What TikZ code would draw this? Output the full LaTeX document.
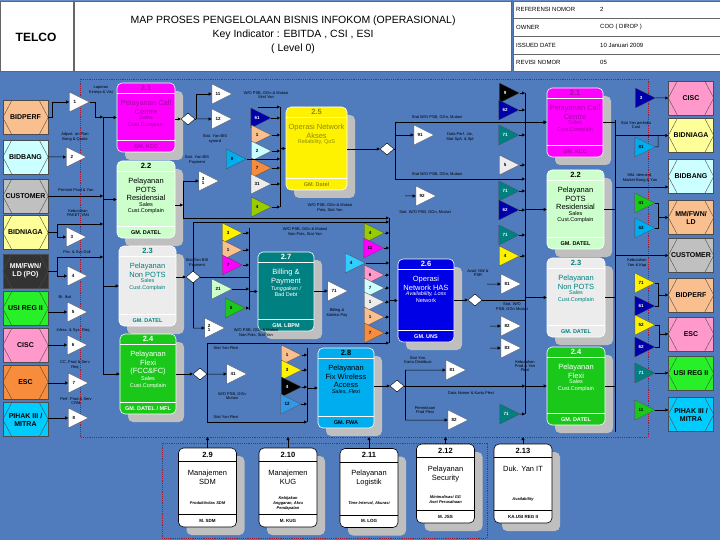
\documentclass[tikz,border=0pt]{standalone}
\usepackage{fontspec}
\setmainfont{Liberation Sans}
\usetikzlibrary{shapes.geometric,arrows.meta,calc}

\definecolor{bgblue}{RGB}{80,124,190}
\definecolor{shadegray}{RGB}{191,191,191}
\definecolor{boundred}{RGB}{150,30,60}
\definecolor{cmag}{RGB}{255,0,255}
\definecolor{cmagtxt}{RGB}{165,10,165}
\definecolor{clgreen}{RGB}{204,255,204}
\definecolor{clgray}{RGB}{236,236,236}
\definecolor{cteal}{RGB}{0,128,128}
\definecolor{cgreen}{RGB}{25,200,25}
\definecolor{cdkyel}{RGB}{140,140,0}
\definecolor{cnavy}{RGB}{0,0,170}
\definecolor{cnavyb}{RGB}{0,0,230}
\definecolor{cpeach}{RGB}{250,191,143}
\definecolor{clcyan}{RGB}{204,255,255}
\definecolor{cgray}{RGB}{192,192,192}
\definecolor{clyellow}{RGB}{255,255,153}
\definecolor{cdark}{RGB}{51,51,51}
\definecolor{cbgreen}{RGB}{40,240,40}
\definecolor{cpink}{RGB}{255,153,204}
\definecolor{corange}{RGB}{247,140,60}
\definecolor{ccyanb}{RGB}{0,204,255}
\definecolor{colive}{RGB}{153,204,0}
\definecolor{csky}{RGB}{51,204,255}
\definecolor{cblue}{RGB}{51,153,230}

\tikzset{
  conn/.style={draw=black, line width=0.5pt},
  arr/.style={-{Triangle[length=3pt,width=3pt]}},
  lbl/.style={font=\fontsize{4}{4.4}\selectfont, align=center, inner sep=0pt},
  hdr/.style={font=\fontsize{6}{7}\selectfont, inner sep=0pt},
  bound/.style={draw=boundred, line width=0.7pt, dash pattern=on 1.2pt off 1pt},
  tri/.style={isosceles triangle, isosceles triangle stretches, minimum width=20, minimum height=20,
    inner sep=0pt, draw=black!70, line width=0.3pt, align=center,
    font=\fontsize{4.5}{4.8}\selectfont\bfseries},
  tw/.style={tri, fill=white},
  tnavy/.style={tri, fill=cnavy, text=white},
  tblack/.style={tri, fill=black, text=white},
  tteal/.style={tri, fill=cteal, text=white},
  tpeach/.style={tri, fill=cpeach},
  tlcyan/.style={tri, fill=clcyan},
  torange/.style={tri, fill=corange},
  tlgray/.style={tri, fill=clgray},
  tolive/.style={tri, fill=colive},
  tyellow/.style={tri, fill=yellow},
  tmag/.style={tri, fill=cmag},
  tlgreen/.style={tri, fill=clgreen},
  tgreen/.style={tri, fill=cgreen},
  tcyan/.style={tri, fill=cyan},
  tsky/.style={tri, fill=csky},
  tblue/.style={tri, fill=cblue},
  tpink/.style={tri, fill=cpink},
  dia/.style={diamond, draw=black, fill=white, minimum width=14, minimum height=12, inner sep=0pt, line width=0.4pt},
  ent/.style={draw=black!70, minimum width=45, minimum height=34, inner sep=0pt, line width=0.4pt},
  entlbl/.style={font=\fontsize{7}{8}\selectfont\bfseries, align=center, inner sep=0pt},
  hexline/.style={draw=black!70, line width=0.4pt},
  proc/.style={draw=white, rounded corners=5, minimum width=57, minimum height=79, inner sep=0pt, line width=0.6pt},
  procshade/.style={fill=shadegray, rounded corners=5, minimum width=57, minimum height=79, inner sep=0pt},
  supp/.style={proc, draw=black, fill=white},
  pnum/.style={font=\fontsize{7.5}{8}\selectfont\bfseries, inner sep=0pt},
  ptitle/.style={font=\fontsize{7.5}{8.8}\selectfont, align=center, anchor=north, inner sep=0pt},
  pkpi/.style={font=\fontsize{5.5}{6.5}\selectfont, align=center, anchor=north, inner sep=1pt},
  pown/.style={font=\fontsize{5.5}{6}\selectfont\bfseries, inner sep=0pt},
  skpi/.style={font=\fontsize{4}{4.8}\selectfont\bfseries\itshape, align=center, inner sep=0pt},
}

% entity box with the inner hexagon
\newcommand{\entbox}[5]{%
  \node[ent,fill=#2] (#1) at (#4) {};
  \draw[hexline] ($(#1.north west)!0.2!(#1.north east)$) -- (#1.west) -- ($(#1.south west)!0.2!(#1.south east)$)
    ($(#1.north east)!0.2!(#1.north west)$) -- (#1.east) -- ($(#1.south east)!0.2!(#1.south west)$);
  \node[entlbl,text=#3] (#1-l) at (#1.center) {#5};
}

% process box: name, size, fill, text colour, position, number, title, kpi, owner
\newcommand{\procbox}[9]{%
  \node[procshade,#2,xshift=8,yshift=-8] at (#5) {};
  \node[proc,#2,fill=#3] (#1) at (#5) {};
  \draw[white,line width=0.6pt] ([yshift=-11]#1.north west) -- ([yshift=-11]#1.north east)
    ([yshift=12]#1.south west) -- ([yshift=12]#1.south east);
  \node[pnum,text=#4] (#1-n) at ([yshift=-5.5]#1.north) {#6};
  \node[ptitle,text=#4] (#1-t) at ([yshift=-17]#1.north) {#7};
  \node[pkpi,text=#4] (#1-k) at (#1-t.south) {#8};
  \node[pown,text=#4] (#1-o) at ([yshift=6]#1.south) {#9};
}

% support box: name, position, number, title, kpi, owner
\newcommand{\suppbox}[6]{%
  \node[procshade,minimum width=58,xshift=8,yshift=-8] at (#2) {};
  \node[supp,minimum width=58] (#1) at (#2) {};
  \draw[black,line width=0.5pt] ([yshift=-14]#1.north west) -- ([yshift=-14]#1.north east)
    ([yshift=13]#1.south west) -- ([yshift=13]#1.south east);
  \node[pnum] (#1-n) at ([yshift=-7]#1.north) {#3};
  \node[ptitle] (#1-t) at ([yshift=-22]#1.north) {#4};
  \node[skpi] (#1-k) at ([yshift=24]#1.south) {#5};
  \node[pown,font=\fontsize{4.5}{5}\selectfont\bfseries] (#1-o) at ([yshift=6.5]#1.south) {#6};
}

\begin{document}
\begin{tikzpicture}[x=1pt,y=-1pt]

    % Canvas
    \fill[bgblue] (0,0) rectangle (720,540);
    \useasboundingbox (0,0) rectangle (720,540);

    % Header
    \draw[fill=white,draw=black!60,line width=0.4pt] (0,1) rectangle (73,71) (74,1) rectangle (511,71) (513,1) rectangle (720,71);
    \draw[black!60,line width=0.4pt] (513,18) -- (720,18) (513,36) -- (720,36) (513,54) -- (720,54);
    \node[font=\fontsize{12}{14}\selectfont\bfseries] (telco) at (36,37) {TELCO};
    \node[font=\fontsize{10.5}{12}\selectfont] (ttlA) at (293,21) {MAP PROSES PENGELOLAAN BISNIS INFOKOM (OPERASIONAL)};
    \node[font=\fontsize{10.5}{12}\selectfont] (ttlB) at (293,35) {Key Indicator : EBITDA , CSI , ESI};
    \node[font=\fontsize{10.5}{12}\selectfont] (ttlC) at (293,49) {( Level 0)};
    \node[hdr,anchor=west] (refL) at (516,9) {REFERENSI NOMOR};
    \node[hdr,anchor=west] (refV) at (600,9) {2};
    \node[hdr,anchor=west] (ownL) at (516,27) {OWNER};
    \node[hdr,anchor=west] (ownV) at (600,27) {COO ( DIROP )};
    \node[hdr,anchor=west] (isuL) at (516,45) {ISSUED DATE};
    \node[hdr,anchor=west] (isuV) at (600,45) {10 Januari 2009};
    \node[hdr,anchor=west] (revL) at (516,62) {REVISI NOMOR};
    \node[hdr,anchor=west] (revV) at (600,62) {05};

    % Boundaries
    \draw[bound] (80,79) rectangle (648,437);
    \draw[bound] (162,443) rectangle (487,538);
    \coordinate (bnd) at (0,437);

    % Left entities
    \entbox{eBidperfL}{cpeach}{black}{25.5,117.5}{BIDPERF}
    \entbox{eBidbangL}{clcyan}{black}{25.5,157}{BIDBANG}
    \entbox{eCustL}{cgray}{black}{25.5,196}{CUSTOMER}
    \entbox{eBidniagaL}{clyellow}{black}{25.5,232.5}{BIDNIAGA}
    \entbox{eMmL}{cdark}{white}{25.5,271}{MM/FWN/\\LD (PO)}
    \entbox{eUsiL}{cbgreen}{black}{25.5,308.5}{USI REG II}
    \entbox{eCiscL}{cpink}{black}{25.5,345.5}{CISC}
    \entbox{eEscL}{corange}{black}{25.5,382}{ESC}
    \entbox{ePihakL}{ccyanb}{black}{25.5,419.5}{PIHAK III /\\MITRA}

    % Right entities
    \entbox{eCiscR}{cpink}{black}{691,98}{CISC}
    \entbox{eBidniagaR}{clyellow}{black}{691,135.5}{BIDNIAGA}
    \entbox{eBidbangR}{clcyan}{black}{691,176.5}{BIDBANG}
    \entbox{eMmR}{cpeach}{black}{691,217.5}{MM/FWN/\\LD}
    \entbox{eCustR}{cgray}{black}{691,255.5}{CUSTOMER}
    \entbox{eBidperfR}{cpeach}{black}{691,295}{BIDPERF}
    \entbox{eEscR}{cpink}{black}{691,334}{ESC}
    \entbox{eUsiR}{cbgreen}{black}{691,373.5}{USI REG II}
    \entbox{ePihakR}{ccyanb}{black}{691,414.5}{PIHAK III /\\MITRA}

    % Processes
    \procbox{pCallL}{minimum width=58,minimum height=69}{cmag}{cmagtxt}{146,117.5}{2.1}{Pelayanan Call\\Centre}{Sales\\Cust.Complain}{GM. KCC}
    \procbox{pPotsL}{minimum width=58,minimum height=77}{clgreen}{black}{146,199.5}{2.2}{Pelayanan\\POTS\\Residensial}{Sales\\Cust.Complain}{GM. DATEL}
    \procbox{pNonL}{minimum height=80}{clgray}{cteal}{147.5,286}{2.3}{Pelayanan\\Non POTS}{Sales\\Cust.Complain}{GM. DATEL}
    \procbox{pFlexiL}{minimum width=56,minimum height=80}{cgreen}{white}{148,374}{2.4}{Pelayanan\\Flexi\\(FCC\&FC)}{Sales\\Cust.Complain}{GM. DATEL / MFL}
    \procbox{pNetA}{minimum width=61,minimum height=83}{yellow}{cdkyel}{316.5,148.5}{2.5}{Operasi Network\\Akses}{Reliability, QoS}{GM. Datel}
    \procbox{pBill}{minimum width=56}{cteal}{white}{286,291.5}{2.7}{Billing \&\\Payment}{\itshape Tunggakan /\\Bad Debt}{GM. LBPM}
    \procbox{pNetH}{minimum width=56,minimum height=83}{cnavyb}{white}{426,300.5}{2.6}{Operasi\\Network HAS}{\itshape Availability, Loss\\Network}{GM. UNS}
    \procbox{pFwa}{minimum width=56,minimum height=80}{cyan}{black}{346,388}{2.8}{Pelayanan\\Fix Wireless\\Access}{\itshape Sales, Flexi}{GM. FWA}
    \procbox{pCallR}{minimum width=56,minimum height=69}{cmag}{cmagtxt}{575,122.5}{2.1}{Pelayanan Call\\Centre}{Sales\\Cust.Complain}{GM. KCC}
    \procbox{pPotsR}{}{clgreen}{black}{575.5,209.5}{2.2}{Pelayanan\\POTS\\Residensial}{Sales\\Cust.Complain}{GM. DATEL}
    \procbox{pNonR}{minimum width=58}{clgray}{cteal}{576,297.5}{2.3}{Pelayanan\\Non POTS}{Sales\\Cust.Complain}{GM. DATEL}
    \procbox{pFlexiR}{minimum width=58,minimum height=78}{cgreen}{white}{576,386}{2.4}{Pelayanan\\Flexi}{Sales\\Cust.Complain}{GM. DATEL}

    % Support processes
    \suppbox{sSdm}{207.5,487.5}{2.9}{Manajemen\\SDM}{Produktivitas SDM}{M. SDM}
    \suppbox{sKug}{288,487.5}{2.10}{Manajemen\\KUG}{Kebijakan\\Anggaran, Akru\\Pendapatan}{M. KUG}
    \suppbox{sLog}{369,488}{2.11}{Pelayanan\\Logistik}{Time Interval, Akurasi}{M. LOG}
    \suppbox{sSec}{445.5,483.5}{2.12}{Pelayanan\\Security}{Minimalisasi GG\\Aset Perusahaan}{M. JSS}
    \suppbox{sIt}{523,483.5}{2.13}{Duk. Yan IT}{Availability}{KA.USI REG II}
    \foreach \s in {sSdm,sKug,sLog,sSec,sIt}
      \draw[conn,arr] (\s.north) -- (\s.north |- bnd);

    % Inputs from the left
    \node[tw] (tL1) at (75,102) {1};
    \node[tw] (tL2) at (72,157) {2};
    \node[tw] (tL3) at (72,237) {3};
    \node[tw] (tL4) at (73,276) {4};
    \node[tw] (tL5) at (73,312) {5};
    \node[tw] (tL6) at (73,345) {6};
    \node[tw] (tL7) at (74,383) {7};
    \node[tw] (tL8) at (74,418) {8};
    \coordinate (busL1) at (103,117);
    \coordinate (busL2) at (103,374);
    \coordinate (jN) at (57,224);
    \coordinate (jM) at (57,257);
    \draw[conn] (busL1) -- (busL2);
    \foreach \p in {pCallL,pPotsL,pNonL,pFlexiL}
      \draw[conn,arr] (busL1 |- \p.west) -- (\p.west);
    \draw[conn,arr] (eBidperfL.east) -- ++(4,0) |- (tL1.west);
    \draw[conn,arr] (tL1.east) -- ++(6,0) |- (busL1);
    \draw[conn,arr] (eBidbangL.east) -- (tL2.west);
    \draw[conn,arr] (eCustL.east) -- (busL1 |- eCustL.east);
    \draw[conn] (eBidniagaL.east) -| (jN);
    \draw[conn,arr] (jN) -- (busL1 |- jN);
    \draw[conn,arr] (eBidniagaL.east -| jN) |- (tL3.west);
    \draw[conn] (eMmL.east) -| (jM);
    \draw[conn,arr] (jM) -- (busL1 |- jM);
    \draw[conn,arr] (eMmL.east -| jM) |- (tL4.west);
    \draw[conn,arr] (eUsiL.east |- tL5.west) -- (tL5.west);
    \draw[conn,arr] (eCiscL.east |- tL6.west) -- (tL6.west);
    \draw[conn,arr] (eEscL.east |- tL7.west) -- (tL7.west);
    \draw[conn,arr] (ePihakL.east |- tL8.west) -- (tL8.west);
    \node[lbl] (lbL1) at (101,90) {Laporan\\Kinerja \& Visi};
    \node[lbl] (lbL2) at (75,137) {Adjust. on Plan\\Bang \& Quota};
    \node[lbl] (lbL3) at (76,190) {Permint Prod \& Yan};
    \node[lbl] (lbL4) at (78,213) {Kebutuhan\\PAKET YAN};
    \node[lbl] (lbL5) at (77,252) {Pro. \& Svc Doll};
    \node[lbl] (lbL6) at (65,297) {Bi. Ikut};
    \node[lbl] (lbL7) at (73,330) {Infras. \& Sys. Req};
    \node[lbl] (lbL8) at (75,365) {CC, Prod \& Serv\\Req};
    \node[lbl] (lbL9) at (76,401) {Perf. Prod \& Serv\\CRM};

    % After 2.1 and 2.2
    \node[dia] (dCallL) at (188,119) {};
    \node[tw] (t11) at (218,94) {11};
    \node[tw] (t12) at (218,119) {12};
    \node[tcyan] (t8) at (232,159) {8};
    \node[tw] (t31) at (203,181) {3\\1};
    \coordinate (jCall) at (196,119);
    \coordinate (jPots) at (183,205);
    \coordinate (jPotsB) at (183,218);
    \draw[conn,arr] (pCallL.east |- dCallL) -- (dCallL.west);
    \draw[conn] (dCallL.east) -- (jCall);
    \draw[conn,arr] (jCall) |- (t11.west);
    \draw[conn,arr] (jCall) -- (t12.west);
    \draw[conn,arr] (pPotsL.east |- jPots) -- (jPots);
    \draw[conn,arr] (jPots) |- (t31.west);
    \draw[conn] (jPots) -- (jPotsB);
    \node[lbl] (lbM1) at (215,139) {Stat. Yan BIS\\synord};
    \node[lbl] (lbM2) at (197,160) {Stat. Yan BIS\\Payment};

    % Into 2.5
    \node[tnavy] (t61) at (257,118) {61};
    \node[tpeach] (t1a) at (257,135) {1};
    \node[tlcyan] (t2a) at (257,151) {2};
    \node[torange] (t7a) at (257,168) {7};
    \node[tlgray] (t31a) at (257,184) {31};
    \node[tolive] (t4a) at (257,207) {4};
    \coordinate (bus25a) at (280,107);
    \coordinate (bus25b) at (280,207);
    \coordinate (wo25) at (258,107);
    \draw[conn] (bus25a) -- (bus25b);
    \foreach \tn in {t61,t1a,t2a,t7a,t31a,t4a,t8}
      \draw[conn,arr] (\tn.east) -- (bus25a |- \tn.east);
    \draw[conn,arr] (wo25) -- (bus25a);
    \draw[conn,arr] (bus25a |- pNetA.west) -- (pNetA.west);
    \node[lbl] (lbM3) at (266,95) {W/O PSB, GGn \& Mutasi\\Siml Yan};

    % After 2.5
    \node[dia] (dNetA) at (387,149) {};
    \node[tw] (t91) at (420,135) {91};
    \node[tw] (t92) at (422,196) {92};
    \coordinate (jNetA1) at (395,122);
    \coordinate (jNetA2) at (395,179);
    \coordinate (in92) at (405,196);
    \coordinate (busRa) at (525,93);
    \coordinate (busRb) at (525,414);
    \draw[conn,arr] (pNetA.east |- dNetA) -- (dNetA.west);
    \draw[conn] (dNetA.east) -- (dNetA.east -| jNetA1);
    \draw[conn] (jNetA1) -- (jNetA2);
    \draw[conn,arr] (jNetA1) -- (pCallR.west |- jNetA1);
    \draw[conn,arr] (jNetA1 |- t91.west) -- (t91.west);
    \draw[conn,arr] (jNetA2) -- (busRa |- jNetA2);
    \draw[conn,arr] (in92) -- (t92.west);
    \node[lbl] (lbM12) at (437,117) {Stat W/O PSB, GGn, Mutasi};
    \node[lbl] (lbM13) at (460,137) {Data Perf. Jar,\\Stat Sp/L \& Spl};
    \node[lbl] (lbM14) at (437,174) {Stat W/O PSB, GGn, Mutasi};
    \node[lbl] (lbM15) at (425,212) {Stat. W/O PSB, GGn, Mutasi};

    % Into the right column
    \node[tblack] (t9) at (505,93) {9};
    \node[tnavy] (t62a) at (505,110) {62};
    \node[tteal] (t71a) at (505,135) {71};
    \node[tlgray] (t5a) at (505,165) {5};
    \node[tteal] (t71b) at (505,191) {71};
    \node[tnavy] (t62b) at (505,210) {62};
    \node[tteal] (t71c) at (505,235) {71};
    \node[tyellow] (t4b) at (505,256) {4};
    \draw[conn] (busRa) -- (busRb);
    \foreach \tn in {t9,t62a,t71a,t5a,t71b,t62b,t71c,t4b}
      \draw[conn,arr] (\tn.east) -- (busRa |- \tn.east);
    \foreach \p in {pCallR,pPotsR,pNonR,pFlexiR}
      \draw[conn,arr] (busRa |- \p.west) -- (\p.west);

    % After 2.3
    \node[dia] (dNonL) at (193,277) {};
    \node[tw] (t21) at (209,328) {2\\1};
    \coordinate (jNonU) at (193,222);
    \coordinate (jNonD) at (193,328);
    \coordinate (bus26a) at (389,218);
    \coordinate (bus26b) at (389,343);
    \coordinate (bus27a) at (249,228);
    \coordinate (bus27b) at (249,310);
    \draw[conn,arr] (pNonL.east |- dNonL) -- (dNonL.west);
    \draw[conn] (dNonL.north) -- (jNonU);
    \draw[conn,arr] (jNonU) -- (bus26a |- jNonU);
    \draw[conn,arr] (jPotsB) -- (bus26a);
    \draw[conn] (dNonL.south) -- (jNonD);
    \draw[conn,arr] (jNonD) -- (t21.west);
    \draw[conn] (dNonL.east) -- (bus27a |- dNonL);
    \node[lbl] (lbM4) at (330,208) {W/O PSB, GGn \& Mutasi\\Pots, Stat Yan};
    \node[lbl] (lbM5) at (305,232) {W/O PSB, GGn \& Mutasi\\Non Pots, Stat Yan};
    \node[lbl] (lbM6) at (197,263) {Stat Yan BIS\\Payment};
    \node[lbl] (lbM7) at (256,333) {W/O PSB, GGn \& Mutasi\\Non Pots, Stat Yan};

    % Into 2.7
    \node[tyellow] (t3b) at (228,233) {3};
    \node[tpeach] (t1b) at (228,250) {1};
    \node[tmag] (t7b) at (228,265) {7};
    \node[tlgreen] (t21b) at (218,289) {21};
    \node[tgreen] (t5b) at (231,308) {5};
    \draw[conn] (bus27a) -- (bus27b);
    \foreach \tn in {t3b,t1b,t7b,t21b,t5b}
      \draw[conn,arr] (\tn.east) -- (bus27a |- \tn.east);
    \draw[conn,arr] (bus27a |- pBill.west) -- (pBill.west);
    \node[tw] (t71w) at (334,291) {71};
    \draw[conn,arr] (pBill.east |- t71w.west) -- (t71w.west);
    \node[lbl] (lbM8) at (337,313) {Billing \&\\Koleksi Pay};

    % Into 2.6
    \node[tolive] (t4c) at (370,233) {4};
    \node[tmag] (t11c) at (370,248) {11};
    \node[tsky] (t4d) at (351,263) {4};
    \node[tpink] (t6c) at (370,275) {6};
    \node[tlcyan] (t7c) at (370,288) {7};
    \node[tlgray] (t1c) at (370,302) {1};
    \node[tpeach] (t1d) at (370,317) {1};
    \node[torange] (t7d) at (370,333) {7};
    \draw[conn] (bus26a) -- (bus26b);
    \foreach \tn in {t4c,t11c,t4d,t6c,t7c,t1c,t1d,t7d}
      \draw[conn,arr] (\tn.east) -- (bus26a |- \tn.east);
    \draw[conn,arr] (bus26a |- pNetH.west) -- (pNetH.west);

    % After 2.6
    \node[dia] (dNetH) at (475,300) {};
    \node[tw] (t81a) at (507,284) {81};
    \node[tw] (t82a) at (507,326) {82};
    \node[tw] (t83a) at (507,348) {83};
    \coordinate (in81a) at (487,284);
    \coordinate (in82a) at (490,326);
    \coordinate (in83a) at (490,348);
    \draw[conn,arr] (pNetH.east |- dNetH) -- (dNetH.west);
    \draw[conn] (dNetH.east) -- (busRa |- dNetH);
    \draw[conn,arr] (in81a) -- (t81a.west);
    \draw[conn,arr] (in82a) -- (t82a.west);
    \draw[conn,arr] (in83a) -- (t83a.west);
    \node[lbl] (lbM16) at (478,273) {Avail, NW \&\\PSR};
    \node[lbl] (lbM17) at (512,307) {Stat. W/O\\PSB, GGn Mutasi};

    % After 2.4
    \node[dia] (dFlexiL) at (200,374) {};
    \node[tw] (t41w) at (233,374) {41};
    \coordinate (jFlxU) at (207,343);
    \coordinate (jFlxD) at (207,422);
    \coordinate (bus28a) at (307,348);
    \coordinate (bus28b) at (307,422);
    \draw[conn,arr] (pFlexiL.east |- dFlexiL) -- (dFlexiL.west);
    \draw[conn,arr] (dFlexiL.east) -- (t41w.west);
    \draw[conn] (jFlxU) -- (jFlxD);
    \draw[conn,arr] (jFlxU) -- (bus26b);
    \draw[conn,arr] (jFlxD) -- (bus28b);
    \node[lbl] (lbM9) at (226,348) {Stat Yan Flexi};
    \node[lbl] (lbM10) at (226,417) {Stat Yan Flexi};
    \node[lbl] (lbM11) at (232,396) {W/O PSB, GGn\\Mutasi};

    % Into 2.8
    \node[tpeach] (t1e) at (287,355) {1};
    \node[tyellow] (t3e) at (287,370) {3};
    \node[tblack] (t4e) at (287,387) {4};
    \node[tblue] (t12e) at (287,404) {12};
    \draw[conn] (bus28a) -- (bus28b);
    \foreach \tn in {t1e,t3e,t4e,t12e}
      \draw[conn,arr] (\tn.east) -- (bus28a |- \tn.east);
    \draw[conn,arr] (bus28a |- pFwa.west) -- (pFwa.west);

    % After 2.8
    \node[dia] (dFwa) at (397,386) {};
    \node[tw] (t81b) at (452,370) {81};
    \node[tw] (t82b) at (454,420) {82};
    \node[tteal] (t71d) at (506,414) {71};
    \coordinate (jFwa1) at (405,370);
    \coordinate (jFwa2) at (405,420);
    \draw[conn,arr] (pFwa.east |- dFwa) -- (dFwa.west);
    \draw[conn,arr] (dFwa.east) -- (busRa |- dFwa);
    \draw[conn] (jFwa1) -- (jFwa2);
    \draw[conn,arr] (jFwa1) -- (t81b.west);
    \draw[conn,arr] (jFwa2) -- (t82b.west);
    \draw[conn,arr] (t71d.east) -- (busRb);
    \node[lbl] (lbM18) at (418,360) {Stat Yan,\\Kartu Distribusi};
    \node[lbl] (lbM19) at (425,410) {Permintaan\\Prod Flexi};
    \node[lbl] (lbM20) at (471,393) {Data Nomor \& Kartu Flexi};
    \node[lbl] (lbM21) at (525,366) {Kebutuhan\\Prod \& Yan\\Flexi};

    % Outputs to the right
    \coordinate (busOa) at (615,120);
    \coordinate (busOb) at (615,432);
    \coordinate (mkt) at (615,187);
    \draw[conn] (busOa) -- (busOb);
    \foreach \p in {pCallR,pPotsR,pNonR,pFlexiR}
      \draw[conn] (\p.east) -- (busOa |- \p.east);
    \node[tnavy] (t3r) at (641,98) {3};
    \node[tcyan] (t81r) at (641,147) {81};
    \node[tgreen] (t41r) at (641,203) {41};
    \node[tcyan] (t62r) at (641,228) {62};
    \node[tyellow] (t71r) at (641,283) {71};
    \node[tnavy] (t61r) at (641,306) {61};
    \node[tyellow] (t52r) at (641,325) {52};
    \node[tnavy] (t62s) at (641,347) {62};
    \node[tteal] (t71s) at (641,373) {71};
    \node[tgreen] (t11r) at (641,410) {11};
    \coordinate (j81) at (658,147);
    \coordinate (jMm) at (658,217.5);
    \coordinate (jBp) at (658,295);
    \coordinate (jEsc) at (659,334);
    \draw[conn,arr] (t3r.east) -- (eCiscR.west);
    \draw[conn,arr] (busOa |- eBidniagaR.west) -- (eBidniagaR.west);
    \draw[conn] (t81r.east) -- (j81) -- (j81 |- eBidniagaR.west);
    \draw[conn,arr] (mkt) -- (eBidbangR.west |- mkt);
    \draw[conn] (t41r.east) -| (jMm);
    \draw[conn] (t62r.east) -| (jMm);
    \draw[conn,arr] (jMm) -- (eMmR.west);
    \draw[conn,arr] (busOa |- eCustR.west) -- (eCustR.west);
    \draw[conn] (t71r.east) -| (jBp);
    \draw[conn] (t61r.east) -| (jBp);
    \draw[conn,arr] (jBp) -- (eBidperfR.west);
    \draw[conn] (t52r.east) -| (jEsc);
    \draw[conn] (t62s.east) -| (jEsc);
    \draw[conn,arr] (jEsc) -- (eEscR.west);
    \draw[conn,arr] (t71s.east) -- (eUsiR.west |- t71s.east);
    \draw[conn,arr] (t11r.east) -- (ePihakR.west |- t11r.east);
    \node[lbl] (lbR1) at (636,125) {Stat Yan perilaku\\Cust};
    \node[lbl] (lbR2) at (640,178) {Mkt. demand,\\Market Bang \& Yan};
    \node[lbl] (lbR3) at (637,263) {Kebutuhan\\Yan \& Kap};

\end{tikzpicture}
\end{document}
